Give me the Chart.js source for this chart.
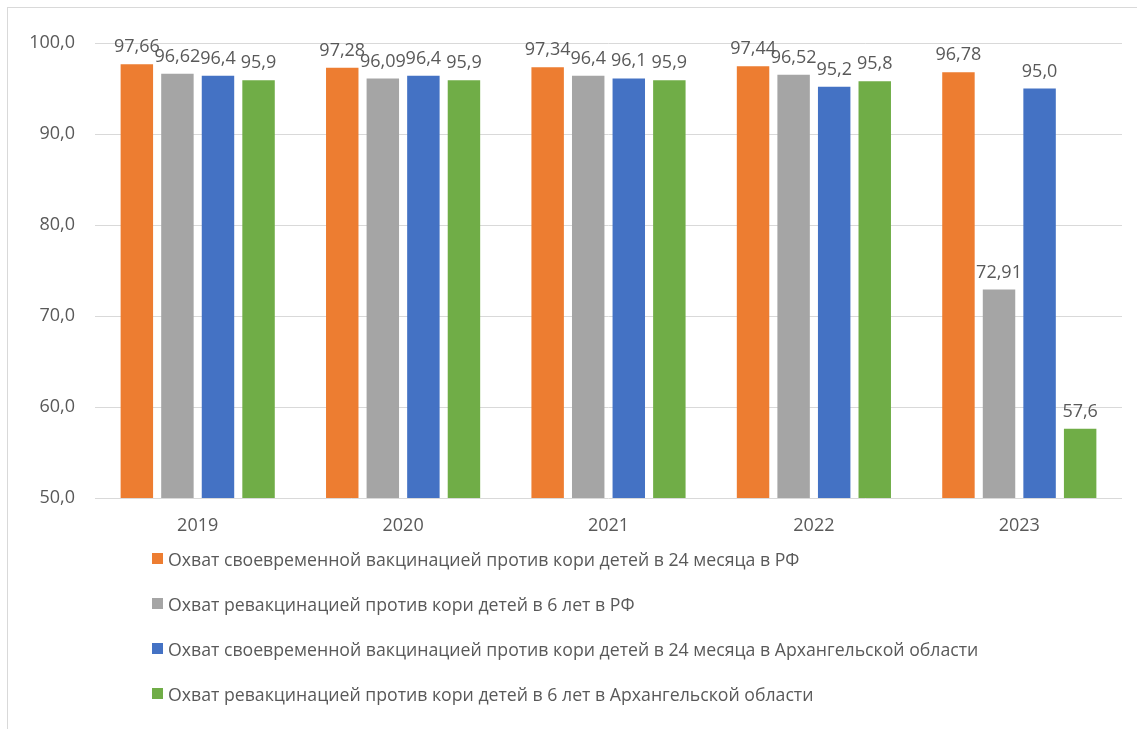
<!DOCTYPE html>
<html lang="ru">
<head>
<meta charset="utf-8">
<script src="https://cdn.jsdelivr.net/npm/chart.js@4"></script>
<style>
    html, body {
        margin: 0;
        padding: 0;
        background: #ffffff;
        width: 1137px;
        height: 729px;
        overflow: hidden;
        font-family: "Open Sans", sans-serif;
    }
    .frame {
        position: absolute;
        left: 7px;
        top: 7px;
        right: 0;
        bottom: 0;
        border-left: 1px solid #d9d9d9;
        border-top: 1px solid #d9d9d9;
    }
    canvas {
        position: absolute;
        left: 0;
        top: 0;
    }
    .legend {
        position: absolute;
        left: 152px;
        top: 536px;
        color: #595959;
        font-size: 17.7px;
    }
    .legend-item {
        height: 45px;
        display: flex;
        align-items: center;
        white-space: nowrap;
    }
    .legend-box {
        width: 11px;
        height: 11px;
        margin-right: 5px;
        flex: none;
    }
</style>
</head>
<body>
<div class="frame"></div>
<canvas id="measlesChart" width="1137" height="729"></canvas>
<div class="legend" id="legend"></div>

<script>
const years = ['2019', '2020', '2021', '2022', '2023'];

const seriesNames = [
    'Охват своевременной вакцинацией против кори детей в 24 месяца в РФ',
    'Охват ревакцинацией против кори детей в 6 лет в РФ',
    'Охват своевременной вакцинацией против кори детей в 24 месяца в Архангельской области',
    'Охват ревакцинацией против кори детей в 6 лет в Архангельской области'
];

const vaccinationRF = [97.66, 97.28, 97.34, 97.44, 96.78];
const revaccinationRF = [96.62, 96.09, 96.4, 96.52, 72.91];
const vaccinationArkh = [96.4, 96.4, 96.1, 95.2, 95.0];
const revaccinationArkh = [95.9, 95.9, 95.9, 95.8, 57.6];

const seriesColors = ['#ED7D31', '#A5A5A5', '#4472C4', '#70AD47'];

const yTicks = [50, 60, 70, 80, 90, 100];

const textColor = '#595959';
const fontFamily = '"Open Sans", sans-serif';

function formatValue(value) {
    const tenths = value * 10;
    if (Math.abs(tenths - Math.round(tenths)) < 1e-6) {
        return value.toFixed(1).replace('.', ',');
    }
    return value.toFixed(2).replace('.', ',');
}

// draws value labels above every bar
const barValueLabels = {
    id: 'barValueLabels',
    afterDatasetsDraw(chart) {
        const ctx = chart.ctx;
        ctx.save();
        ctx.font = '18px ' + fontFamily;
        ctx.fillStyle = textColor;
        ctx.textAlign = 'center';
        ctx.textBaseline = 'alphabetic';
        chart.data.datasets.forEach(function (dataset, i) {
            const meta = chart.getDatasetMeta(i);
            meta.data.forEach(function (bar, j) {
                ctx.fillText(formatValue(dataset.data[j]), bar.x, bar.y - 12);
            });
        });
        ctx.restore();
    }
};

const allSeries = [vaccinationRF, revaccinationRF, vaccinationArkh, revaccinationArkh];

new Chart(document.getElementById('measlesChart'), {
    type: 'bar',
    data: {
        labels: years,
        datasets: allSeries.map(function (values, i) {
            return {
                label: seriesNames[i],
                data: values,
                backgroundColor: seriesColors[i],
                categoryPercentage: 0.79,
                barPercentage: 0.8
            };
        })
    },
    plugins: [barValueLabels],
    options: {
        responsive: false,
        animation: false,
        layout: {
            padding: { left: 0, top: 43, right: 15, bottom: 191 }
        },
        plugins: {
            legend: { display: false },
            tooltip: { enabled: false }
        },
        scales: {
            x: {
                border: { display: false },
                grid: { display: false },
                ticks: {
                    color: textColor,
                    padding: 9,
                    font: { family: fontFamily, size: 18 }
                },
                afterFit: function (scale) {
                    scale.height = 40;
                }
            },
            y: {
                min: 50,
                max: 100,
                border: { display: false },
                grid: {
                    color: '#d9d9d9',
                    drawTicks: false
                },
                afterBuildTicks: function (scale) {
                    scale.ticks = yTicks.map(function (v) { return { value: v }; });
                },
                ticks: {
                    color: textColor,
                    padding: 20,
                    font: { family: fontFamily, size: 18 },
                    callback: function (value) {
                        return formatValue(value);
                    }
                },
                afterFit: function (scale) {
                    scale.width = 95;
                }
            }
        }
    }
});

const legend = document.getElementById('legend');
seriesNames.forEach(function (name, i) {
    const item = document.createElement('div');
    item.className = 'legend-item';
    const box = document.createElement('span');
    box.className = 'legend-box';
    box.style.background = seriesColors[i];
    const text = document.createElement('span');
    text.textContent = name;
    item.appendChild(box);
    item.appendChild(text);
    legend.appendChild(item);
});
</script>
</body>
</html>
